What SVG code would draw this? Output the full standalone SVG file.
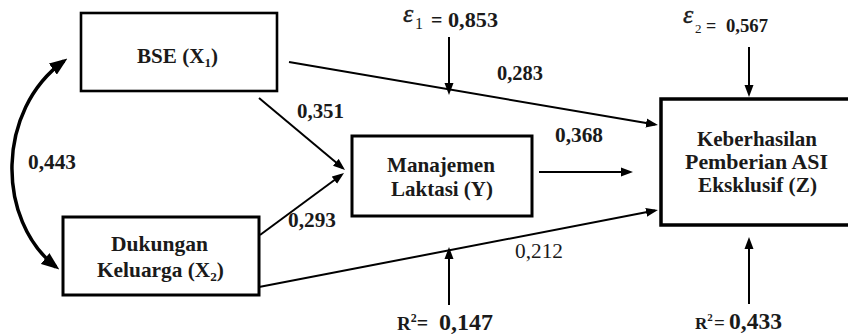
<svg xmlns="http://www.w3.org/2000/svg" width="848" height="335" viewBox="0 0 848 335">
<style>
.box{fill:#fff;stroke:#000;stroke-width:3}
.t{font-family:"Liberation Serif","Times New Roman",serif;font-weight:bold;font-size:20px;fill:#1a1a1a}
.nt{font-size:21px}
.n{font-weight:normal}
.eps{font-weight:normal;font-style:italic;font-size:26px;stroke:#1a1a1a;stroke-width:0.4}
.c{fill:none;stroke:#000;stroke-width:2}
.cv{fill:none;stroke:#000;stroke-width:3.5}
</style>
<defs>
<marker id="ah" markerUnits="userSpaceOnUse" markerWidth="12" markerHeight="10" refX="9" refY="4.5" orient="auto" viewBox="0 0 12 9">
<path d="M0,0 L12,4.5 L0,9 z" fill="#000"/>
</marker>
<marker id="ahb" markerUnits="userSpaceOnUse" markerWidth="18" markerHeight="14" refX="13" refY="6.5" orient="auto-start-reverse" viewBox="0 0 17 13">
<path d="M0,0 L17,6.5 L0,13 z" fill="#000"/>
</marker>
</defs>

<g id="connectors">
<path class="cv" d="M56,267 C-4,220 -4,110 64,61" marker-start="url(#ahb)" marker-end="url(#ahb)"/>
<line class="c" x1="289" y1="62" x2="655" y2="124.5" marker-end="url(#ah)"/>
<line class="c" x1="259" y1="98" x2="342.7" y2="168.1" marker-end="url(#ah)"/>
<line class="c" x1="260" y1="235" x2="341.6" y2="174.8" marker-end="url(#ah)"/>
<line class="c" x1="539" y1="172" x2="630" y2="172" marker-end="url(#ah)"/>
<line class="c" x1="259" y1="287" x2="655" y2="210.6" marker-end="url(#ah)"/>
<line class="c" x1="449" y1="37" x2="449" y2="92" marker-end="url(#ah)"/>
<line class="c" x1="749" y1="47" x2="749" y2="94" marker-end="url(#ah)"/>
<line class="c" x1="449" y1="305" x2="449" y2="250" marker-end="url(#ah)"/>
<line class="c" x1="749" y1="304" x2="749" y2="240" marker-end="url(#ah)"/>
</g>

<g id="node-bse">
<rect class="box" x="81" y="13" width="196" height="78" style="stroke-width:2.6"/>
<text class="t nt" x="137" y="63" textLength="81" lengthAdjust="spacingAndGlyphs">BSE (X<tspan font-size="13" dy="4">1</tspan><tspan dy="-4">)</tspan></text>
</g>

<g id="node-dukungan">
<rect class="box" x="63" y="217" width="196" height="78"/>
<text class="t nt" x="111" y="251" textLength="97" lengthAdjust="spacingAndGlyphs">Dukungan</text>
<text class="t nt" x="97" y="277" textLength="127" lengthAdjust="spacingAndGlyphs">Keluarga (X<tspan font-size="13" dy="4">2</tspan><tspan dy="-4">)</tspan></text>
</g>

<g id="node-manajemen">
<rect class="box" x="352" y="136" width="180" height="80"/>
<text class="t nt" x="387" y="172" textLength="108" lengthAdjust="spacingAndGlyphs">Manajemen</text>
<text class="t nt" x="391" y="196" textLength="102" lengthAdjust="spacingAndGlyphs">Laktasi (Y)</text>
</g>

<g id="node-z">
<rect class="box" x="661" y="99" width="195" height="126" style="stroke-width:3.5"/>
<text class="t nt" x="697" y="146" textLength="120" lengthAdjust="spacingAndGlyphs">Keberhasilan</text>
<text class="t nt" x="685" y="169" textLength="143" lengthAdjust="spacingAndGlyphs">Pemberian ASI</text>
<text class="t nt" x="698" y="192" textLength="119" lengthAdjust="spacingAndGlyphs">Eksklusif (Z)</text>
</g>

<g id="labels">
<text class="t" x="403" y="27"><tspan class="eps" dy="-5">ε</tspan><tspan class="n" x="415" font-size="16" dy="7">1</tspan><tspan x="431" dy="-2">=</tspan><tspan x="448" textLength="50" lengthAdjust="spacingAndGlyphs">0,853</tspan></text>
<text class="t" x="683" y="32"><tspan class="eps" dy="-9">ε</tspan><tspan class="n" x="695" font-size="13" dy="10">2</tspan><tspan x="706" dy="-1" font-size="18">=</tspan><tspan x="726" font-size="19" textLength="42" lengthAdjust="spacingAndGlyphs">0,567</tspan></text>
<text class="t" x="497" y="80" textLength="46" lengthAdjust="spacingAndGlyphs">0,283</text>
<text class="t" x="297" y="118" textLength="47" lengthAdjust="spacingAndGlyphs">0,351</text>
<text class="t" x="28" y="169" textLength="48" lengthAdjust="spacingAndGlyphs">0,443</text>
<text class="t" x="288" y="227" textLength="48" lengthAdjust="spacingAndGlyphs">0,293</text>
<text class="t" x="555" y="142" textLength="48" lengthAdjust="spacingAndGlyphs">0,368</text>
<text class="t n" x="515" y="258" textLength="48" lengthAdjust="spacingAndGlyphs">0,212</text>
<text class="t" x="397" y="330"><tspan font-size="19">R</tspan><tspan font-size="12" dy="-8">2</tspan><tspan font-size="20" dy="8">=</tspan><tspan x="439" font-size="23" textLength="54" lengthAdjust="spacingAndGlyphs">0,147</tspan></text>
<text class="t" x="695" y="329"><tspan font-size="17">R</tspan><tspan font-size="11" dy="-8">2</tspan><tspan x="714" font-size="19" dy="8">=</tspan><tspan x="729" font-size="23" textLength="53" lengthAdjust="spacingAndGlyphs">0,433</tspan></text>
</g>
</svg>
